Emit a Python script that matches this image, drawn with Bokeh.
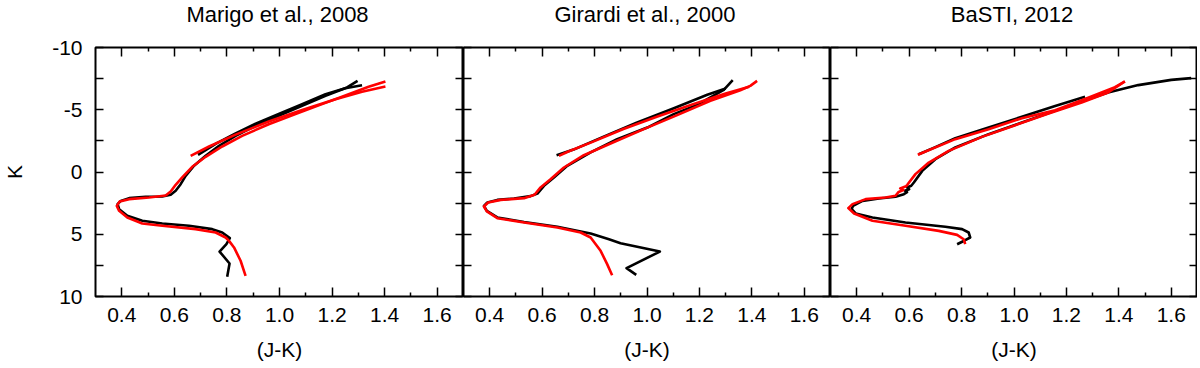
from bokeh.plotting import figure
from bokeh.layouts import row, column
from bokeh.models import LinearAxis, FixedTicker, PrintfTickFormatter, Range1d, CustomLabelingPolicy
from bokeh.core.properties import value
from bokeh.embed import file_html
from bokeh.resources import INLINE

TITLES = ["Marigo et al., 2008", "Girardi et al., 2000", "BaSTI, 2012"]
X_TICKS = [0.4, 0.6, 0.8, 1.0, 1.2, 1.4, 1.6]
X_MINOR = [0.5, 0.7, 0.9, 1.1, 1.3, 1.5]
K_TICKS = [-10, -5, 0, 5, 10]
K_MINOR = [-7.5, -2.5, 2.5, 7.5]

# ---- Panel 1: Marigo et al. 2008 ----
m08_black_x = [0.801, 0.810, 0.772, 0.798, 0.811, 0.782, 0.744, 0.656, 0.554, 0.478, 0.421, 0.390, 0.384, 0.396, 0.428,
               0.491, 0.554, 0.586, 0.605, 0.624, 0.643, 0.675, 0.719, 0.770, 0.833, 0.909, 0.997, 1.086, 1.175, 1.257, 1.297]
m08_black_k = [8.42, 7.35, 6.39, 5.80, 5.31, 4.86, 4.59, 4.32, 4.14, 3.92, 3.52, 2.99, 2.58, 2.32, 2.10,
               1.99, 1.97, 1.83, 1.51, 0.98, 0.31, -0.50, -1.30, -2.10, -2.90, -3.71, -4.51, -5.31, -6.12, -6.79, -7.32]
m08_black_agb_x = [1.314, 1.250, 1.175, 1.086, 0.997, 0.909, 0.833, 0.760, 0.690]
m08_black_agb_k = [-6.97, -6.72, -6.25, -5.45, -4.66, -3.88, -3.10, -2.30, -1.38]
m08_red_x = [0.871, 0.852, 0.827, 0.808, 0.795, 0.757, 0.681, 0.554, 0.478, 0.421, 0.390, 0.381, 0.392, 0.428, 0.504,
             0.567, 0.586, 0.605, 0.630, 0.668, 0.719, 0.782, 0.858, 0.959, 1.061, 1.162, 1.263, 1.339, 1.403]
m08_red_k = [8.34, 7.13, 6.06, 5.53, 5.26, 4.86, 4.59, 4.32, 4.14, 3.65, 3.12, 2.72, 2.37, 2.18, 2.05,
             1.89, 1.57, 1.03, 0.44, -0.42, -1.22, -2.05, -2.90, -3.84, -4.65, -5.45, -6.25, -6.84, -7.27]
m08_red_agb_x = [1.403, 1.314, 1.213, 1.086, 0.959, 0.833, 0.732, 0.662]
m08_red_agb_k = [-6.87, -6.45, -5.85, -4.98, -4.05, -3.00, -2.05, -1.30]

# ---- Panel 2: Girardi et al. 2000 ----
g00_black_x = [0.959, 0.922, 1.049, 0.899, 0.855, 0.785, 0.658, 0.531, 0.429, 0.389, 0.378, 0.391, 0.429, 0.493, 0.556,
               0.582, 0.607, 0.645, 0.696, 0.785, 0.886, 1.001, 1.102, 1.191, 1.293, 1.327]
g00_black_k = [8.26, 7.72, 6.39, 5.72, 5.40, 4.94, 4.40, 4.02, 3.65, 3.12, 2.72, 2.45, 2.24, 2.13, 1.94,
               1.73, 1.11, 0.44, -0.50, -1.57, -2.64, -3.57, -4.65, -5.39, -6.60, -7.38]
g00_black_agb_x = [1.300, 1.230, 1.100, 0.960, 0.830, 0.720, 0.655]
g00_black_agb_k = [-6.70, -6.20, -5.10, -3.95, -2.80, -1.80, -1.35]
g00_red_x = [0.867, 0.848, 0.823, 0.785, 0.747, 0.658, 0.531, 0.429, 0.389, 0.378, 0.394, 0.442, 0.531, 0.571, 0.594,
             0.632, 0.683, 0.759, 0.861, 0.988, 1.115, 1.242, 1.356, 1.394, 1.420]
g00_red_k = [8.29, 7.40, 6.33, 5.26, 4.86, 4.46, 4.06, 3.71, 3.17, 2.77, 2.45, 2.24, 2.10, 1.83, 1.24,
             0.58, -0.36, -1.35, -2.29, -3.44, -4.57, -5.72, -6.57, -6.92, -7.32]
g00_red_agb_x = [1.390, 1.300, 1.170, 1.040, 0.910, 0.790, 0.700, 0.664]
g00_red_agb_k = [-6.85, -6.30, -5.40, -4.45, -3.45, -2.40, -1.65, -1.30]

# ---- Panel 3: BaSTI 2012 ----
b12_black_x = [0.783, 0.814, 0.833, 0.827, 0.802, 0.738, 0.586, 0.460, 0.396, 0.381, 0.386, 0.422, 0.485, 0.548, 0.580,
               0.592, 0.584, 0.600, 0.592, 0.608, 0.618, 0.650, 0.700, 0.776, 0.903, 1.030, 1.157, 1.283, 1.359,
               1.474, 1.600, 1.676]
b12_black_k = [5.80, 5.48, 5.26, 4.86, 4.59, 4.40, 4.06, 3.65, 3.33, 2.98, 2.72, 2.32, 2.13, 1.99, 1.78,
               1.62, 1.50, 1.38, 1.25, 1.10, 0.84, -0.09, -1.03, -1.97, -3.04, -3.98, -4.91, -5.85, -6.39,
               -6.98, -7.40, -7.54]
b12_black_agb_x = [1.271, 1.157, 1.030, 0.903, 0.776, 0.700, 0.637]
b12_black_agb_k = [-6.04, -5.31, -4.43, -3.57, -2.72, -2.00, -1.43]
b12_red_x = [0.814, 0.808, 0.783, 0.713, 0.586, 0.460, 0.390, 0.368, 0.384, 0.434, 0.510, 0.548, 0.560, 0.578,
             0.566, 0.588, 0.593, 0.624, 0.675, 0.751, 0.878, 1.005, 1.132, 1.258, 1.359, 1.423]
b12_red_k = [5.80, 5.40, 5.05, 4.73, 4.32, 3.92, 3.33, 2.90, 2.58, 2.18, 2.05, 1.91, 1.60, 1.45,
             1.32, 1.15, 1.03, 0.17, -0.76, -1.70, -2.82, -3.76, -4.70, -5.58, -6.39, -7.27]
b12_red_agb_x = [1.423, 1.385, 1.283, 1.157, 1.030, 0.903, 0.776, 0.633]
b12_red_agb_k = [-7.27, -6.81, -5.96, -4.96, -4.32, -3.44, -2.64, -1.38]

FONT = "Liberation Sans"
FS = "21px"
TITLE_FS = "22px"
NO_LABELS = CustomLabelingPolicy(code="for (const i of indices) { indices.unset(i) }\nreturn indices")
LEFT_BORDER = 93
HEADER_H = 32
TITLE_POS = 0.12   # vertical position of the title inside the header strip (range -1..1)
FRAME_WIDTHS = [368, 367, 367]


def style_axis(ax, show_labels, major_len, minor_len):
    ax.axis_line_color = None
    ax.major_tick_in = major_len
    ax.major_tick_out = 0
    ax.minor_tick_in = minor_len
    ax.minor_tick_out = 0
    ax.major_tick_line_color = "black"
    ax.minor_tick_line_color = "black"
    ax.major_tick_line_width = 1.5
    ax.minor_tick_line_width = 1.5
    ax.major_label_text_font = FONT
    ax.major_label_text_color = "black"
    ax.axis_label_text_font = FONT
    ax.axis_label_text_font_style = "normal"
    ax.axis_label_text_font_size = FS
    ax.axis_label_text_color = "black"
    if show_labels:
        ax.major_label_text_font_size = FS
    else:
        ax.major_label_text_font_size = "0px"
        ax.major_label_standoff = 0
        ax.major_label_policy = NO_LABELS


def make_header(title, first, fw):
    h = figure(frame_width=fw, frame_height=HEADER_H,
               x_range=Range1d(0.3, 1.7), y_range=Range1d(-1, 1),
               x_axis_location=None, y_axis_location=None,
               output_backend="svg", toolbar_location=None)
    h.min_border_left = LEFT_BORDER if first else 0
    h.min_border_right = 0
    h.min_border_top = 0
    h.min_border_bottom = 0
    h.outline_line_color = None
    h.xgrid.visible = False
    h.ygrid.visible = False
    h.background_fill_color = "white"
    h.border_fill_color = "white"
    h.text(x=[1.0], y=[TITLE_POS], text=[title], text_align="center", text_baseline="middle",
           text_font=value(FONT), text_font_size=value(TITLE_FS), text_color="black")
    return h


def make_panel(first, fw, black, black_agb, red, red_agb):
    p = figure(frame_width=fw, frame_height=249,
               x_range=Range1d(0.3, 1.7), y_range=Range1d(10, -10),
               output_backend="svg", toolbar_location=None)
    p.min_border_left = LEFT_BORDER if first else 0
    p.min_border_right = 0
    p.min_border_top = 47 - HEADER_H
    p.min_border_bottom = 70
    p.background_fill_color = "white"
    p.border_fill_color = "white"
    p.outline_line_color = "black"
    p.outline_line_width = 2
    p.xgrid.visible = False
    p.ygrid.visible = False

    xa = p.xaxis[0]
    xa.ticker = FixedTicker(ticks=X_TICKS, minor_ticks=X_MINOR)
    xa.formatter = PrintfTickFormatter(format="%.1f")
    xa.axis_label = "(J-K)"
    style_axis(xa, True, 9, 4)
    xa.major_label_standoff = 11
    xa.axis_label_standoff = 13

    ya = p.yaxis[0]
    ya.ticker = FixedTicker(ticks=K_TICKS, minor_ticks=K_MINOR)
    ya.formatter = PrintfTickFormatter(format="%d")
    if first:
        ya.axis_label = "K"
        style_axis(ya, True, 8, 8)
        ya.major_label_standoff = 13
        ya.axis_label_standoff = 23
    else:
        style_axis(ya, False, 8, 8)

    top = LinearAxis(ticker=FixedTicker(ticks=X_TICKS, minor_ticks=X_MINOR))
    style_axis(top, False, 9, 4)
    p.add_layout(top, "above")
    right = LinearAxis(ticker=FixedTicker(ticks=K_TICKS, minor_ticks=K_MINOR))
    style_axis(right, False, 8, 8)
    p.add_layout(right, "right")

    for (x, k) in (black, black_agb):
        p.line(x, k, line_color="black", line_width=2.6, line_join="round")
    for (x, k) in (red, red_agb):
        p.line(x, k, line_color="#ff0000", line_width=2.6, line_join="round")
    return p


headers = [make_header(TITLES[i], i == 0, FRAME_WIDTHS[i]) for i in range(3)]
p1 = make_panel(True, FRAME_WIDTHS[0], (m08_black_x, m08_black_k), (m08_black_agb_x, m08_black_agb_k),
                (m08_red_x, m08_red_k), (m08_red_agb_x, m08_red_agb_k))
p2 = make_panel(False, FRAME_WIDTHS[1], (g00_black_x, g00_black_k), (g00_black_agb_x, g00_black_agb_k),
                (g00_red_x, g00_red_k), (g00_red_agb_x, g00_red_agb_k))
p3 = make_panel(False, FRAME_WIDTHS[2], (b12_black_x, b12_black_k), (b12_black_agb_x, b12_black_agb_k),
                (b12_red_x, b12_red_k), (b12_red_agb_x, b12_red_agb_k))

layout = column(row(*headers, spacing=0), row(p1, p2, p3, spacing=0), spacing=0)
open("out.html", "w").write(file_html(layout, INLINE))
